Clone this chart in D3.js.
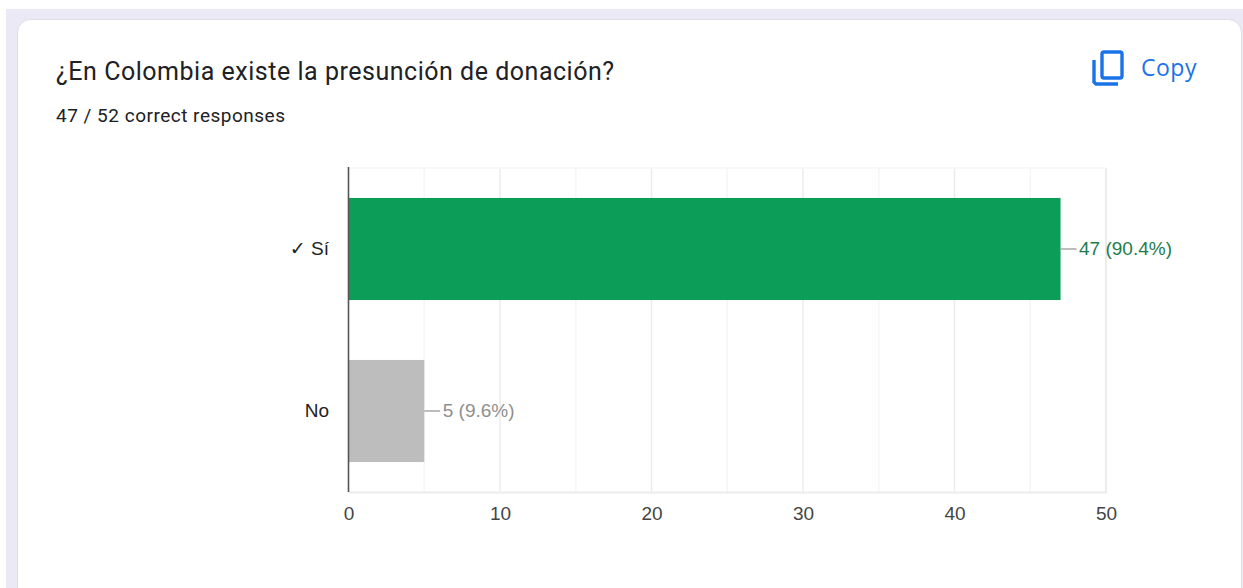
<!DOCTYPE html>
<html>
<head>
<meta charset="utf-8">
<style>
html, body { margin: 0; padding: 0; background: #fff; overflow: hidden; }
svg { display: block; }
</style>
<script src="https://cdn.jsdelivr.net/npm/d3@7"></script>
</head>
<body>
<svg id="chart" width="1243" height="588"></svg>
<script>
const titleText = "¿En Colombia existe la presunción de donación?";
const subtitleText = "47 / 52 correct responses";
const copyText = "Copy";
const categories = ["✓ Sí", "No"];
const counts = [47, 5];
const shares = ["90.4%", "9.6%"];
const barColors = ["#0c9d58", "#bdbdbd"];
const labelColors = ["#1e7d4d", "#8f8f8f"];
const axisTicks = [0, 10, 20, 30, 40, 50];
const gridTicks = [5, 10, 15, 20, 25, 30, 35, 40, 45, 50];

const svg = d3.select("#chart");

// Page backdrop and the rounded response card
svg.append("rect").attr("x", 6).attr("y", 9).attr("width", 1237).attr("height", 579).attr("fill", "#ece9f7");
svg.append("rect").attr("x", 17.5).attr("y", 19.5).attr("width", 1224).attr("height", 590)
  .attr("rx", 13).attr("fill", "#fff").attr("stroke", "#dfdde6");

svg.append("text").attr("x", 56).attr("y", 80)
  .attr("font-family", "Roboto").attr("font-size", 25).attr("letter-spacing", 0.52).attr("fill", "#202124")
  .text(titleText);
svg.append("text").attr("x", 56).attr("y", 122)
  .attr("font-family", "Roboto").attr("font-size", 19).attr("letter-spacing", 0.5).attr("fill", "#202124")
  .text(subtitleText);

// Copy button: two overlapping sheets and its label
const icon = svg.append("g").attr("fill", "none").attr("stroke", "#1a73e8").attr("stroke-width", 3.4);
icon.append("rect").attr("x", 1102).attr("y", 52).attr("width", 20).attr("height", 26).attr("rx", 2);
icon.append("path").attr("d", d3.line()([[1094, 60], [1094, 82], [1096, 84], [1118, 84]]));
svg.append("text").attr("x", 1141).attr("y", 76)
  .attr("font-family", "Open Sans").attr("font-size", 23).attr("font-weight", 500).attr("letter-spacing", 0.5).attr("fill", "#1a73e8")
  .text(copyText);

const x = d3.scaleLinear().domain([0, 50]).range([348.5, 1106]);
const y = d3.scaleBand().domain(categories).range([168, 492]).paddingInner(0.37).paddingOuter(0.185);

// Gridlines every five units, stronger on the labelled values
svg.append("g").selectAll("line").data(gridTicks).join("line")
  .attr("x1", d => x(d)).attr("x2", d => x(d)).attr("y1", 168).attr("y2", 492)
  .attr("stroke", d => d % 10 === 0 ? "#ececec" : "#f6f6f6")
  .attr("stroke-width", d => d === 50 ? 2 : 1.5);
svg.append("line").attr("x1", x(0)).attr("x2", x(50)).attr("y1", 168).attr("y2", 168)
  .attr("stroke", "#f6f6f6").attr("stroke-width", 1.5);
svg.append("line").attr("x1", x(0)).attr("x2", x(50) + 1).attr("y1", 492.5).attr("y2", 492.5)
  .attr("stroke", "#ececec").attr("stroke-width", 2);

svg.append("g").selectAll("rect").data(categories).join("rect")
  .attr("x", x(0)).attr("y", d => y(d))
  .attr("width", (d, i) => x(counts[i]) - x(0)).attr("height", y.bandwidth())
  .attr("fill", (d, i) => barColors[i]);

// Leader line and value label beside each bar
categories.forEach((c, i) => {
  const cy = y(c) + y.bandwidth() / 2;
  svg.append("line").attr("x1", x(counts[i])).attr("x2", x(counts[i]) + 16).attr("y1", cy).attr("y2", cy)
    .attr("stroke", "#9a9a9a").attr("stroke-width", 1.3);
  svg.append("text").attr("x", x(counts[i]) + 18.5).attr("y", cy + 6)
    .attr("font-family", "Liberation Sans").attr("font-size", 19).attr("fill", labelColors[i])
    .text(`${counts[i]} (${shares[i]})`);
});

// Category labels and the zero baseline
svg.append("g").selectAll("text").data(categories).join("text")
  .attr("x", 329).attr("y", d => y(d) + y.bandwidth() / 2 + 6).attr("text-anchor", "end")
  .attr("font-family", "Liberation Sans, DejaVu Sans").attr("font-size", 19).attr("fill", "#222")
  .text(d => d);
svg.append("line").attr("x1", x(0)).attr("x2", x(0)).attr("y1", 167).attr("y2", 492)
  .attr("stroke", "#555").attr("stroke-width", 1.6);

// Value axis labels
const axis = svg.append("g").attr("transform", "translate(0,492)")
  .call(d3.axisBottom(x).tickValues(axisTicks).tickSize(0).tickPadding(15));
axis.select(".domain").remove();
axis.selectAll("text").attr("font-family", "Liberation Sans").attr("font-size", 19).attr("fill", "#444");
</script>
</body>
</html>
